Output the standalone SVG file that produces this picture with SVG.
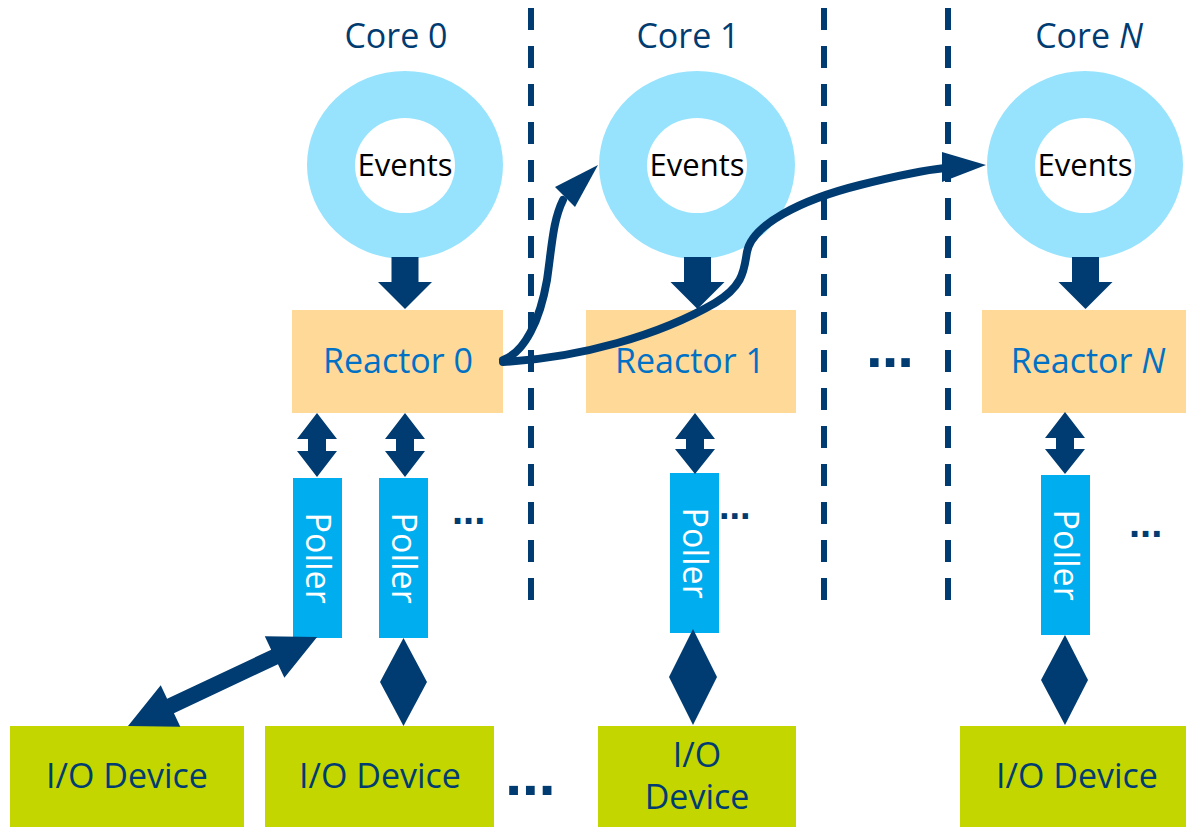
<svg xmlns="http://www.w3.org/2000/svg" width="1186" height="827" viewBox="0 0 1186 827">
<style>
.t{font-family:"Open Sans","Noto Sans","DejaVu Sans",sans-serif}
.core{font-size:34px;fill:#003c71;text-anchor:middle}
.ev{font-size:31px;fill:#000;text-anchor:middle}
.rx{font-size:34px;fill:#0071c5;text-anchor:middle}
.pl{font-size:34px;fill:#fff;text-anchor:middle}
.io{font-size:34px;fill:#003c71;text-anchor:middle}
.dots{font-family:"Liberation Sans",Arial,sans-serif;fill:#003c71;font-weight:bold}
.ring{fill:#97e3fe;fill-rule:evenodd}
.reactor{fill:#fed998}
.poller{fill:#00aeef}
.dev{fill:#c4d600}
.nav{fill:#003c71}
.dash{stroke:#003c71;stroke-width:6;stroke-dasharray:22 16;fill:none}
.curve{stroke:#003c71;stroke-width:8;fill:none;stroke-linecap:round}
</style>

<g id="separators">
<line class="dash" x1="531" y1="8" x2="531" y2="602"/>
<line class="dash" x1="824" y1="8" x2="824" y2="602"/>
<line class="dash" x1="948" y1="8" x2="948" y2="602"/>
</g>

<g id="core0">
<text class="t core" x="396" y="48">Core 0</text>
<path class="ring" d="M307,165 a98,94 0 1,0 196,0 a98,94 0 1,0 -196,0 Z M355,165.5 a50,47.5 0 1,0 100,0 a50,47.5 0 1,0 -100,0 Z"/>
<text class="t ev" x="405" y="176">Events</text>
</g>
<g id="core1">
<text class="t core" x="688" y="48">Core 1</text>
<path class="ring" d="M599,165 a98,94 0 1,0 196,0 a98,94 0 1,0 -196,0 Z M647,165.5 a50,47.5 0 1,0 100,0 a50,47.5 0 1,0 -100,0 Z"/>
<text class="t ev" x="697" y="176">Events</text>
</g>
<g id="coreN">
<text class="t core" x="1089" y="48">Core <tspan font-style="italic">N</tspan></text>
<path class="ring" d="M987,165 a98,94 0 1,0 196,0 a98,94 0 1,0 -196,0 Z M1035,165.5 a50,47.5 0 1,0 100,0 a50,47.5 0 1,0 -100,0 Z"/>
<text class="t ev" x="1085" y="176">Events</text>
</g>

<g id="reactor0">
<rect class="reactor" x="292" y="310" width="211" height="103"/>
<text class="t rx" x="398" y="373">Reactor 0</text>
</g>
<g id="reactor1">
<rect class="reactor" x="586" y="310" width="210" height="103"/>
<text class="t rx" x="690" y="373">Reactor 1</text>
</g>
<g id="reactorN">
<rect class="reactor" x="982" y="310" width="210" height="103"/>
<text class="t rx" x="1088" y="373">Reactor <tspan font-style="italic">N</tspan></text>
</g>
<g id="reactor-more">
<text class="dots" x="866" y="367" font-size="60" letter-spacing="-1">...</text>
</g>

<g id="poller0a">
<rect class="poller" x="293" y="478" width="49" height="160"/>
<text class="t pl" transform="translate(317.5,558) rotate(90)" x="0" y="12">Poller</text>
</g>
<g id="poller0b">
<rect class="poller" x="379" y="478" width="49" height="160"/>
<text class="t pl" transform="translate(403.5,558) rotate(90)" x="0" y="12">Poller</text>
</g>
<g id="poller0-more">
<text class="dots" x="452" y="524" font-size="40">...</text>
</g>
<g id="poller1">
<rect class="poller" x="670" y="473" width="49" height="160"/>
<text class="t pl" transform="translate(694.5,553) rotate(90)" x="0" y="12">Poller</text>
</g>
<g id="poller1-more">
<text class="dots" x="719" y="519" font-size="38" font-weight="normal">...</text>
</g>
<g id="pollerN">
<rect class="poller" x="1041" y="475" width="49" height="160"/>
<text class="t pl" transform="translate(1065.5,555) rotate(90)" x="0" y="12">Poller</text>
</g>
<g id="pollerN-more">
<text class="dots" x="1129" y="537" font-size="40">...</text>
</g>

<g id="io0a">
<rect class="dev" x="10" y="726" width="234" height="101"/>
<text class="t io" x="127" y="788">I/O Device</text>
</g>
<g id="io0b">
<rect class="dev" x="265" y="726" width="229" height="101"/>
<text class="t io" x="380" y="788">I/O Device</text>
</g>
<g id="io-more">
<text class="dots" x="505" y="795" font-size="62" letter-spacing="-0.5">...</text>
</g>
<g id="io1">
<rect class="dev" x="598" y="726" width="198" height="101"/>
<text class="t io" x="697" y="767">I/O</text>
<text class="t io" x="697" y="809">Device</text>
</g>
<g id="ioN">
<rect class="dev" x="960" y="726" width="226" height="101"/>
<text class="t io" x="1077" y="788">I/O Device</text>
</g>

<g id="connectors">
<polygon class="nav" points="391.5,257 418.5,257 418.5,282 432,282 405,309 378,282 391.5,282"/>
<polygon class="nav" points="684,257 711,257 711,282 724.5,282 697.5,309 670.5,282 684,282"/>
<polygon class="nav" points="1072,257 1099,257 1099,282 1112.5,282 1085.5,309 1058.5,282 1072,282"/>
<polygon class="nav" points="317,413 337,439 326,439 326,451 337,451 317,477 297,451 308,451 308,439 297,439"/>
<polygon class="nav" points="405,413 425,439 414,439 414,451 425,451 405,477 385,451 396,451 396,439 385,439"/>
<polygon class="nav" points="695,413 715,439 704,439 704,449 715,449 695,474 675,449 686,449 686,439 675,439"/>
<polygon class="nav" points="1065,412 1085,438 1074,438 1074,449 1085,449 1065,474 1045,449 1056,449 1056,438 1045,438"/>
<polygon class="nav" transform="translate(128,726) rotate(-25.2)" points="0,0 47,-23 47,-8 162,-8 162,-23 209,0 162,23 162,8 47,8 47,23"/>
<polygon class="nav" points="403.5,638 427,682 403.5,726 380,682"/>
<polygon class="nav" points="693,629 717,677 693,725 669,677"/>
<polygon class="nav" points="1065,635 1088,680 1065,725 1041,680"/>
<path class="curve" d="M503,360 C525,352 540,320 547,280 C552,245 553,220 563,200"/>
<polygon class="nav" points="598,165 575,207 555,187"/>
<path class="curve" d="M503,362 C580,358 660,335 715,303 C745,285 744,268 747,252 C752,225 800,200 860,185 C900,175 925,170 945,168"/>
<polygon class="nav" points="986,165 942,152 942,182"/>
</g>
</svg>
